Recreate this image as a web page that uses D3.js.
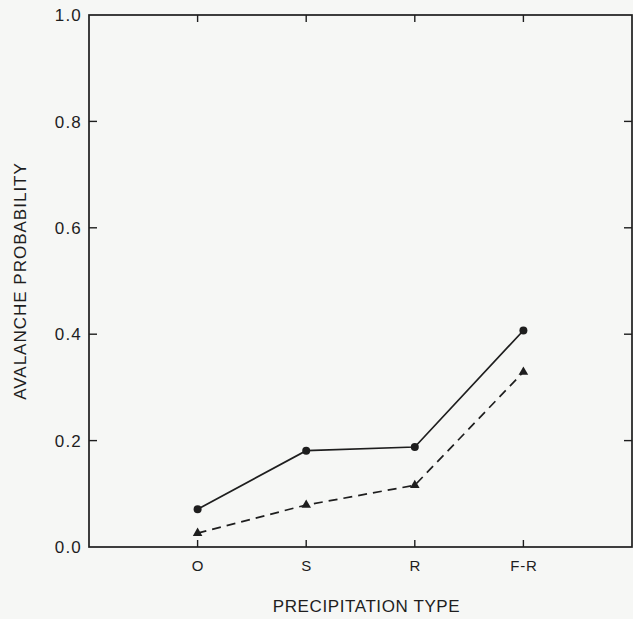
<!DOCTYPE html>
<html>
<head>
<meta charset="utf-8">
<script src="https://cdn.jsdelivr.net/npm/d3@7"></script>
<style>
  body { margin: 0; background: #f6f7f5; }
  text { font-family: "Liberation Sans", Arial, sans-serif; fill: #1e1e1e; }
</style>
</head>
<body>
<div id="chart"></div>
<script>
const categories = ["O", "S", "R", "F-R"];
const circleValues = [0.071, 0.181, 0.188, 0.407];
const triangleValues = [0.026, 0.079, 0.116, 0.329];
const yTicks = [0.0, 0.2, 0.4, 0.6, 0.8, 1.0];

const width = 633;
const height = 619;
const margin = { top: 15, right: 1, bottom: 72, left: 89 };

const svg = d3.select("#chart")
  .append("svg")
  .attr("width", width)
  .attr("height", height);

const x = d3.scaleLinear()
  .domain([0, categories.length + 1])
  .range([margin.left, width - margin.right]);

const y = d3.scaleLinear()
  .domain([0, 1])
  .range([height - margin.bottom, margin.top]);

const pos = (d, i) => x(i + 1);
const ink = "#1e1e1e";

// frame
svg.append("rect")
  .attr("x", x(0))
  .attr("y", y(1))
  .attr("width", x(5) - x(0))
  .attr("height", y(0) - y(1))
  .attr("fill", "none")
  .attr("stroke", ink)
  .attr("stroke-width", 1.7);

// ticks, all pointing inward
const tickLen = 8;
svg.append("g").selectAll("line")
  .data(yTicks.slice(1, -1))
  .join("line")
  .attr("x1", x(0)).attr("x2", x(0) + tickLen)
  .attr("y1", d => y(d)).attr("y2", d => y(d))
  .attr("stroke", ink).attr("stroke-width", 1.4);

svg.append("g").selectAll("line")
  .data(yTicks.slice(1, -1))
  .join("line")
  .attr("x1", x(5)).attr("x2", x(5) - tickLen)
  .attr("y1", d => y(d)).attr("y2", d => y(d))
  .attr("stroke", ink).attr("stroke-width", 1.4);

svg.append("g").selectAll("line")
  .data(categories)
  .join("line")
  .attr("x1", pos).attr("x2", pos)
  .attr("y1", y(0)).attr("y2", y(0) - 7)
  .attr("stroke", ink).attr("stroke-width", 1.4);

svg.append("g").selectAll("line")
  .data(categories)
  .join("line")
  .attr("x1", pos).attr("x2", pos)
  .attr("y1", y(1)).attr("y2", y(1) + 7)
  .attr("stroke", ink).attr("stroke-width", 1.4);

// tick labels
svg.append("g").selectAll("text")
  .data(yTicks)
  .join("text")
  .attr("x", x(0) - 7)
  .attr("y", d => y(d))
  .attr("dy", "0.36em")
  .attr("text-anchor", "end")
  .attr("font-size", 17)
  .attr("letter-spacing", 1.2)
  .text(d => d.toFixed(1));

svg.append("g").selectAll("text")
  .data(categories)
  .join("text")
  .attr("x", (d, i) => pos(d, i) + 0.5)
  .attr("y", y(0) + 24)
  .attr("text-anchor", "middle")
  .attr("font-size", 15)
  .attr("letter-spacing", 0.8)
  .text(d => d);

// axis titles
svg.append("text")
  .attr("x", (x(0) + x(5)) / 2 + 6)
  .attr("y", 612)
  .attr("text-anchor", "middle")
  .attr("font-size", 17)
  .attr("letter-spacing", 0.6)
  .text("PRECIPITATION TYPE");

svg.append("text")
  .attr("transform", `translate(26,${(y(0) + y(1)) / 2}) rotate(-90)`)
  .attr("text-anchor", "middle")
  .attr("font-size", 17)
  .attr("letter-spacing", 1)
  .text("AVALANCHE PROBABILITY");

// series
const line = d3.line().x(pos).y(d => y(d));

svg.append("path")
  .datum(circleValues)
  .attr("d", line)
  .attr("fill", "none")
  .attr("stroke", ink)
  .attr("stroke-width", 1.7);

svg.append("path")
  .datum(triangleValues)
  .attr("d", line)
  .attr("fill", "none")
  .attr("stroke", ink)
  .attr("stroke-width", 1.7)
  .attr("stroke-dasharray", "9,6");

svg.append("g").selectAll("circle")
  .data(circleValues)
  .join("circle")
  .attr("cx", pos)
  .attr("cy", d => y(d))
  .attr("r", 4)
  .attr("fill", ink);

svg.append("g").selectAll("path")
  .data(triangleValues)
  .join("path")
  .attr("transform", (d, i) => `translate(${pos(d, i)},${y(d)})`)
  .attr("d", d3.symbol(d3.symbolTriangle, 40))
  .attr("fill", ink);
</script>
</body>
</html>
